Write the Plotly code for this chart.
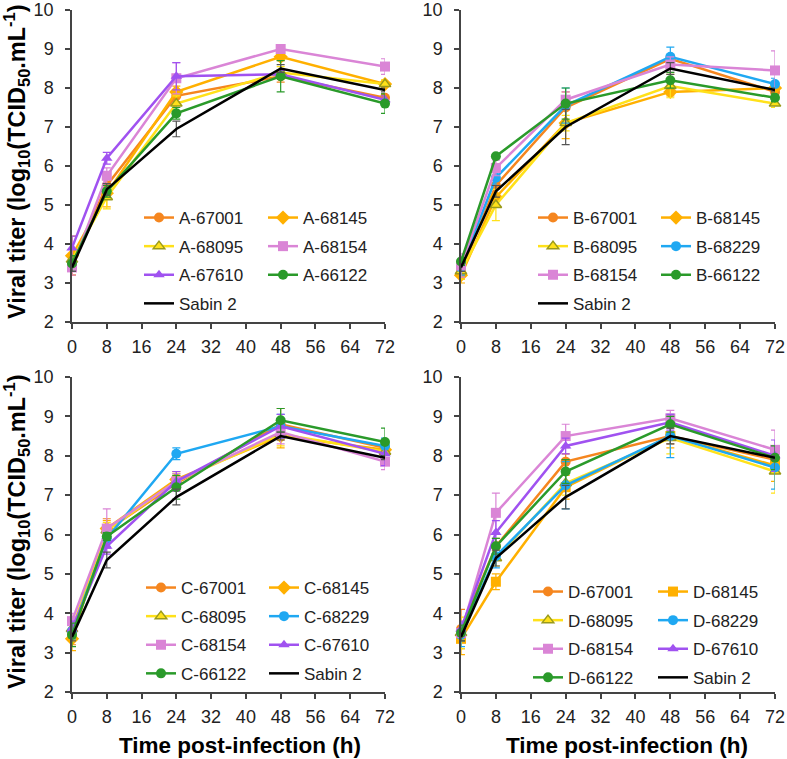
"""
Viral growth curves (4 panels A-D) of vaccine-derived strains vs Sabin 2
"""

import plotly.graph_objects as go
from plotly.subplots import make_subplots

W, H = 787, 759

# sampling times (h)
times = [0, 8, 24, 48, 72]

# --- panel A ---
a_names = ["A-67001", "A-68145", "A-68095", "A-68154", "A-67610", "A-66122", "Sabin 2"]
a_titer = [
    [3.5, 5.5, 7.8, 8.3, 7.75],
    [3.7, 5.3, 7.9, 8.8, 8.1],
    [3.6, 5.2, 7.6, 8.4, 8.1],
    [3.4, 5.75, 8.25, 9.0, 8.55],
    [3.9, 6.2, 8.3, 8.35, 7.7],
    [3.5, 5.35, 7.35, 8.3, 7.6],
    [3.4, 5.4, 6.95, 8.5, 7.95],
]
a_err = [
    [0.3, 0.2, 0.15, 0.15, 0.1],
    [0.5, 0.35, 0.15, 0.1, 0.1],
    [0.3, 0.3, 0.2, 0.15, 0.1],
    [0.2, 0.2, 0.4, 0.1, 0.2],
    [0.3, 0.15, 0.35, 0.1, 0.1],
    [0.2, 0.15, 0.15, 0.4, 0.25],
    [0.1, 0.15, 0.2, 0.1, 0.05],
]

# --- panel B ---
b_names = ["B-67001", "B-68145", "B-68095", "B-68229", "B-68154", "B-66122", "Sabin 2"]
b_titer = [
    [3.3, 5.5, 7.5, 8.75, 7.9],
    [3.2, 5.2, 7.1, 7.9, 8.0],
    [3.3, 5.0, 7.1, 8.05, 7.6],
    [3.4, 5.7, 7.55, 8.8, 8.1],
    [3.45, 5.95, 7.7, 8.6, 8.45],
    [3.55, 6.25, 7.6, 8.2, 7.75],
    [3.4, 5.35, 7.0, 8.5, 7.95],
]
b_err = [
    [0.2, 0.2, 0.4, 0.1, 0.1],
    [0.2, 0.2, 0.4, 0.1, 0.1],
    [0.2, 0.4, 0.2, 0.3, 0.1],
    [0.2, 0.2, 0.45, 0.25, 0.15],
    [0.3, 0.2, 0.2, 0.2, 0.5],
    [0.1, 0.05, 0.4, 0.2, 0.1],
    [0.1, 0.15, 0.45, 0.15, 0.05],
]

# --- panel C ---
c_names = ["C-67001", "C-68145", "C-68095", "C-68229", "C-68154", "C-67610", "C-66122", "Sabin 2"]
c_titer = [
    [3.5, 6.1, 7.3, 8.8, 8.2],
    [3.35, 6.15, 7.4, 8.5, 8.15],
    [3.6, 6.1, 7.35, 8.55, 8.1],
    [3.55, 5.9, 8.05, 8.75, 8.25],
    [3.8, 6.15, 7.35, 8.6, 7.85],
    [3.6, 5.7, 7.35, 8.75, 8.05],
    [3.45, 5.95, 7.2, 8.9, 8.35],
    [3.4, 5.35, 6.95, 8.5, 7.95],
]
c_err = [
    [0.3, 0.3, 0.2, 0.4, 0.2],
    [0.3, 0.2, 0.2, 0.3, 0.2],
    [0.3, 0.2, 0.2, 0.3, 0.2],
    [0.2, 0.2, 0.15, 0.3, 0.2],
    [0.2, 0.5, 0.2, 0.3, 0.2],
    [0.2, 0.2, 0.25, 0.3, 0.3],
    [0.3, 0.1, 0.3, 0.3, 0.35],
    [0.1, 0.2, 0.2, 0.1, 0.05],
]

# --- panel D ---
d_names = ["D-67001", "D-68145", "D-68095", "D-68229", "D-68154", "D-67610", "D-66122", "Sabin 2"]
d_titer = [
    [3.6, 5.7, 7.85, 8.5, 7.9],
    [3.35, 4.8, 7.2, 8.5, 7.75],
    [3.5, 5.4, 7.3, 8.45, 7.6],
    [3.45, 5.45, 7.25, 8.5, 7.7],
    [3.5, 6.55, 8.5, 8.95, 8.15],
    [3.6, 6.05, 8.25, 8.85, 8.0],
    [3.5, 5.7, 7.6, 8.8, 7.95],
    [3.4, 5.4, 6.95, 8.5, 7.95],
]
d_err = [
    [0.5, 0.2, 0.2, 0.2, 0.3],
    [0.4, 0.2, 0.3, 0.3, 0.4],
    [0.4, 0.2, 0.3, 0.4, 0.55],
    [0.3, 0.3, 0.6, 0.55, 0.55],
    [0.2, 0.5, 0.3, 0.2, 0.5],
    [0.2, 0.3, 0.2, 0.2, 0.4],
    [0.2, 0.2, 0.3, 0.2, 0.3],
    [0.1, 0.2, 0.3, 0.2, 0.05],
]

# style per strain (colour, marker symbol)
STYLE = {
    "67001": ("#F5861F", "circle"),
    "68145": ("#FFB000", "diamond"),
    "68095": ("#FFE11A", "triangle-up"),
    "68154": ("#DA85D6", "square"),
    "67610": ("#A052F0", "triangle-up"),
    "66122": ("#2A9A2A", "circle"),
    "68229": ("#1FA8F2", "circle"),
}

FONT = "Arial, Liberation Sans, sans-serif"


def px_x(x):
    return x / W


def px_y(y):
    return 1 - y / H


# plot areas in pixels: (left, right, top, bottom)
boxes = [(72, 385, 10, 322), (461, 775, 10, 322), (72, 385, 377, 692), (461, 775, 377, 692)]

# legend columns: (left px of line sample, top row centre px, [names in column])
legend_cols = [
    [(143, 218, a_names[0::2]), (267, 218, a_names[1::2])],
    [(537, 218, b_names[0::2]), (660, 218, b_names[1::2])],
    [(145, 588, c_names[0::2]), (268, 588, c_names[1::2])],
    [(532, 592, d_names[0::2]), (657, 592, d_names[1::2])],
]

panels = [
    (a_names, a_titer, a_err),
    (b_names, b_titer, b_err),
    (c_names, c_titer, c_err),
    (d_names, d_titer, d_err),
]

fig = make_subplots(rows=2, cols=2)

layout_legends = {}
leg_idx = 0
for p, (names, titer, err) in enumerate(panels):
    row, col = p // 2 + 1, p % 2 + 1

    # legend ids for the two columns of this panel
    col_of = {}
    for c, (lx, ly, col_names) in enumerate(legend_cols[p]):
        leg_idx += 1
        key = "legend" if leg_idx == 1 else f"legend{leg_idx}"
        layout_legends[key] = dict(
            x=px_x(lx - 4), y=px_y(ly - 18),
            xanchor="left", yanchor="top",
            bgcolor="rgba(0,0,0,0)",
            font=dict(family=FONT, size=17, color="#222"),
            tracegroupgap=3.5,
            itemclick=False,
        )
        for n in col_names:
            col_of[n] = key

    for i, name in enumerate(names):
        if name == "Sabin 2":
            color, mode, marker = "#000000", "lines", dict()
            err_color = "#555555"
        else:
            color, symbol = STYLE[name[2:]]
            if p == 3 and name.endswith("68145"):
                symbol = "square"
            mline = dict(width=1.5, color="#9A9A1A") if name.endswith("68095") else dict(width=0)
            msize = 11 if symbol == "diamond" else 10
            marker = dict(symbol=symbol, size=msize, color=color, line=mline)
            mode = "lines+markers"
            err_color = color
        fig.add_trace(go.Scatter(
            x=times, y=titer[i],
            mode=mode, name=name,
            line=dict(color=color, width=2.5),
            marker=marker,
            error_y=dict(type="data", array=err[i], color=err_color, thickness=1.2, width=4),
            cliponaxis=False,
            legend=col_of[name],
            legendgroup=f"{p}-{name}",
        ), row=row, col=col)

for p, (l, r, t, b) in enumerate(boxes):
    row, col = p // 2 + 1, p % 2 + 1
    fig.update_xaxes(
        domain=[px_x(l), px_x(r)], range=[0, 72],
        tickmode="array", tickvals=list(range(0, 73, 8)),
        ticks="outside", ticklen=5, tickcolor="#444", tickwidth=1.5,
        showline=True, linecolor="#444", linewidth=1.5,
        showgrid=False, zeroline=False, automargin=False,
        ticklabelstandoff=3, ticklabeloverflow="allow",
        tickfont=dict(family=FONT, size=18, color="#222"),
        row=row, col=col,
    )
    fig.update_yaxes(
        domain=[px_y(b), px_y(t)], range=[2, 10],
        tickmode="array", tickvals=list(range(2, 11)),
        ticks="outside", ticklen=5, tickcolor="#444", tickwidth=1.5,
        showline=True, linecolor="#444", linewidth=1.5,
        showgrid=False, zeroline=False, automargin=False,
        ticklabelposition="outside", ticklabelstandoff=8, ticklabeloverflow="allow",
        tickfont=dict(family=FONT, size=18, color="#222"),
        row=row, col=col,
    )

# axis titles as annotations so they sit where the reference puts them
ytitle = "<b>Viral titer (log<sub>10</sub>(TCID<sub>50</sub>.mL<sup>-1</sup>)</b>"
for yc in (162, 532):
    fig.add_annotation(
        text=ytitle, textangle=-90, showarrow=False,
        xref="paper", yref="paper", x=px_x(16), y=px_y(yc),
        xanchor="center", yanchor="middle",
        font=dict(family=FONT, size=23.5, color="#000"),
    )

xtitle = "<b>Time post-infection (h)</b>"
for xc in (240, 627):
    fig.add_annotation(
        text=xtitle, showarrow=False,
        xref="paper", yref="paper", x=px_x(xc), y=px_y(745),
        xanchor="center", yanchor="middle",
        font=dict(family=FONT, size=22.5, color="#000"),
    )

fig.update_layout(
    width=W, height=H,
    margin=dict(l=0, r=0, t=0, b=0),
    plot_bgcolor="white", paper_bgcolor="white",
    showlegend=True,
    font=dict(family=FONT),
    **layout_legends,
)

# drop the default 8px body margin so the figure fills the window
fig.write_html("out.html", config={"displayModeBar": False},
               post_script="document.body.style.margin='0';")
